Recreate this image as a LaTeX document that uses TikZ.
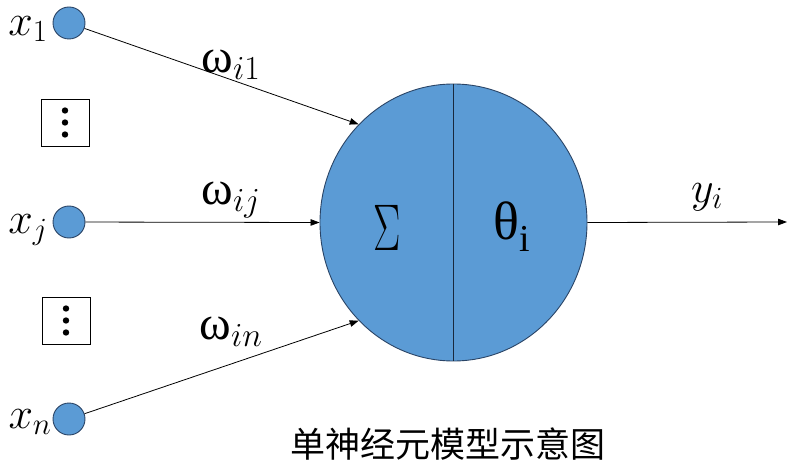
\RequirePackage{fix-cm}
\documentclass[tikz,border=0pt]{standalone}
\usepackage{fontspec}
\newfontfamily\grk{Liberation Serif}
\newfontfamily\cjk{Noto Sans CJK SC}
\usetikzlibrary{arrows.meta,shapes.geometric}
\definecolor{nfill}{HTML}{5B9BD5}
\definecolor{nline}{HTML}{2A4466}
\tikzset{
  inpt/.style={circle,draw=nline,fill=nfill,line width=0.9pt,minimum size=32pt,inner sep=0pt},
  dotbox/.style={draw,line width=0.8pt,minimum width=48pt,minimum height=47pt,inner sep=0pt},
  conn/.style={line width=0.8pt,-{Triangle[length=9pt,width=6.5pt]}},
  lbl/.style={inner sep=0pt,font=\fontsize{44}{44}\selectfont},
  wlbl/.style={inner sep=0pt,font=\fontsize{48}{48}\selectfont\grk},
}
\begin{document}
\begin{tikzpicture}[x=1pt,y=-1pt]
\useasboundingbox (0,0) rectangle (791,470);
% neuron
\node[ellipse,draw=nline,fill=nfill,line width=0.9pt,minimum width=267pt,minimum height=277pt,inner sep=0pt] (neuron) at (453.5,222.5) {};
\draw[line width=0.9pt,color=nline!60!black] (neuron.north) -- (neuron.south);
\node[inner sep=0pt] (sigma) at (387,228) {\scalebox{0.62}[1]{\fontsize{66}{66}\selectfont$\Sigma$}};
\node[inner sep=0pt] (theta) at (512,227) {\grk\fontsize{54}{54}\selectfont θ\raisebox{-0.22em}{\fontsize{38}{38}\selectfont i}};
% inputs
\node[inpt] (x1) at (69,23) {};
\node[inpt] (xj) at (69,222) {};
\node[inpt] (xn) at (69,419) {};
\node[lbl] (lx1) at (28,29) {$x_1$};
\node[lbl] (lxj) at (28,230) {$x_j$};
\node[lbl] (lxn) at (30,422) {$x_n$};
% dots boxes
\node[dotbox] (d1) at (65,122.5) {};
\node[dotbox] (d2) at (66,320.5) {};
\foreach \b in {d1,d2}{
  \fill ([yshift=-12pt]\b.center) circle (3.2pt);
  \fill (\b.center) circle (3.2pt);
  \fill ([yshift=12pt]\b.center) circle (3.2pt);
}
% connectors
\draw[conn] (x1) -- (neuron.134);
\draw[conn] (xj) -- (neuron.west);
\draw[conn] (xn) -- (neuron.226);
\coordinate (out) at (787,222);
\draw[conn] (neuron.east) -- (out);
% weight labels
\node[wlbl] (w1) at (231,65) {ω$_{i1}$};
\node[wlbl] (wj) at (231,200) {ω$_{ij}$};
\node[wlbl] (wn) at (231,332) {ω$_{in}$};
\node[lbl] (y) at (707,197) {$y_i$};
% caption
\node[inner sep=0pt,font=\cjk\fontsize{35}{35}\selectfont] (cap) at (448,444) {单神经元模型示意图};
\end{tikzpicture}
\end{document}
